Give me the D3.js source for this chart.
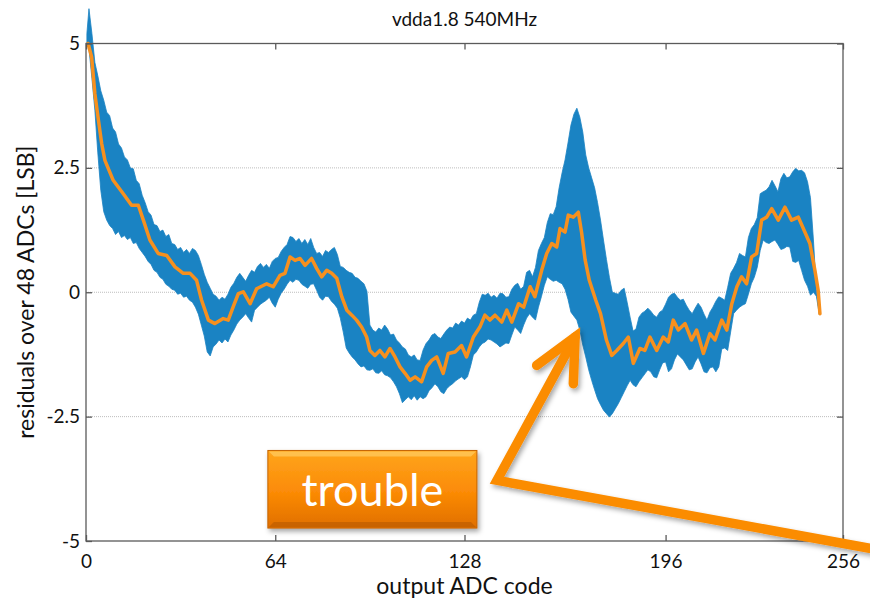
<!DOCTYPE html>
<html>
<head>
<meta charset="utf-8">
<script src="https://cdn.jsdelivr.net/npm/d3@7"></script>
<style>
  html, body { margin: 0; padding: 0; background: #fff; }
  svg { display: block; font-family: Lato, "Open Sans", sans-serif; }
</style>
</head>
<body>
<svg id="chart" width="870" height="600"></svg>
<script>
// ---- data: residual spread across 48 ADCs vs. output code ----
const title = "vdda1.8 540MHz";
const xLabel = "output ADC code";
const yLabel = "residuals over 48 ADCs [LSB]";

const xTicks = [0, 64, 128, 196, 256];
const yTicks = [5, 2.5, 0, -2.5, -5];
const yTickLabels = ["5", "2.5", "0", "-2.5", "-5"];

// mean residual (orange trace)
const meanCode = [0.7, 1.9, 3.0, 4.2, 5.3, 6.4, 9.2, 12.6, 15.4, 17.7, 19.4, 21.6, 24.4, 27.3, 30.1, 32.9, 35.2, 37.4, 39.1, 41.4,
  43.6, 46.4, 48.1, 49.8, 51.5, 53.2, 55.5, 57.7, 61.1, 63.3, 65.6, 67.3, 69.0, 70.7, 72.4, 74.1, 76.3, 78.0, 79.7, 81.4,
  83.1, 84.8, 86.5, 88.2, 89.9, 91.5, 93.2, 94.9, 96.0, 97.7, 99.4, 101.1, 102.8, 104.5, 106.2, 107.9, 109.6, 111.3, 113.5, 115.2,
  116.9, 118.6, 120.8, 122.5, 124.8, 127.0, 128.7, 131.0, 133.2, 134.9, 136.6, 138.3, 140.6, 142.3, 144.0, 146.3, 148.0, 150.2, 151.8, 154.1,
  155.8, 157.5, 159.2, 160.3, 162.0, 163.1, 164.8, 166.5, 167.6, 168.8, 170.2, 172.4, 174.0, 176.0, 177.8, 179.5, 181.7, 183.4, 185.1, 187.3,
  189.0, 190.7, 193.0, 195.2, 196.9, 198.6, 200.3, 202.6, 204.8, 206.5, 208.8, 211.0, 212.7, 215.0, 216.7, 218.4, 220.1, 221.7, 223.4, 225.1,
  226.8, 228.5, 230.2, 231.9, 234.1, 236.4, 238.6, 240.9, 243.1, 244.8, 246.5, 247.6, 248.2];
const meanVal = [5.0, 4.73, 3.99, 3.46, 2.99, 2.65, 2.25, 1.98, 1.75, 1.75, 1.45, 1.05, 0.78, 0.74, 0.51, 0.38, 0.38, 0.24, -0.16, -0.56,
  -0.63, -0.53, -0.56, -0.29, -0.03, 0.01, -0.23, 0.07, 0.17, 0.11, 0.34, 0.38, 0.71, 0.64, 0.68, 0.54, 0.68, 0.48, 0.31, 0.44,
  0.38, 0.28, -0.09, -0.36, -0.46, -0.56, -0.70, -0.90, -1.17, -1.27, -1.17, -1.30, -1.13, -1.30, -1.50, -1.63, -1.77, -1.70, -1.80, -1.50,
  -1.37, -1.30, -1.63, -1.23, -1.20, -1.07, -1.30, -0.90, -0.70, -0.46, -0.56, -0.46, -0.60, -0.36, -0.60, -0.23, -0.30, 0.11, -0.09, 0.44,
  0.78, 0.98, 0.91, 1.28, 1.21, 1.55, 1.51, 1.61, 1.20, 0.65, 0.24, -0.16, -0.43, -0.96, -1.27, -1.17, -1.03, -0.90, -1.43, -1.13,
  -1.17, -0.90, -1.17, -0.90, -1.00, -0.56, -0.76, -0.63, -0.96, -0.76, -1.23, -0.83, -0.96, -0.56, -0.76, -0.23, 0.11, 0.31, 0.17, 0.71,
  0.78, 1.45, 1.51, 1.68, 1.45, 1.71, 1.45, 1.51, 1.21, 0.98, 0.44, 0.04, -0.43];

// upper envelope of the spread (blue band top), one value per code
const upperCode = [0.3, ...d3.range(1, 249)];
const upperVal = [5.20,
  5.70, 5.20, 4.62, 4.35, 4.05, 3.86, 3.62, 3.55, 3.30,
  3.22, 2.98, 2.90, 2.72, 2.66, 2.50, 2.48, 2.25, 2.18, 1.95,
  1.80, 1.62, 1.55, 1.36, 1.34, 1.22, 1.25, 1.12, 1.16, 0.98,
  0.96, 0.86, 0.90, 0.80, 0.86, 0.78, 0.88, 0.84, 0.74, 0.56,
  0.36, 0.20, 0.08, -0.04, -0.08, -0.16, -0.10, -0.14, -0.04, 0.10,
  0.18, 0.30, 0.38, 0.30, 0.22, 0.34, 0.44, 0.40, 0.52, 0.58,
  0.50, 0.56, 0.48, 0.62, 0.68, 0.70, 0.82, 0.90, 0.96, 1.12,
  1.10, 1.02, 1.08, 0.98, 1.06, 0.96, 1.08, 0.90, 0.78, 0.80,
  0.72, 0.84, 0.80, 0.86, 0.90, 0.76, 0.52, 0.50, 0.44, 0.40,
  0.38, 0.30, 0.28, 0.22, 0.17, 0.02, -0.66, -0.76, -0.80, -0.72,
  -0.76, -0.66, -0.74, -0.86, -0.84, -0.96, -1.02, -1.10, -1.14, -1.26,
  -1.30, -1.26, -1.36, -1.37, -1.16, -1.03, -0.96, -0.86, -0.83, -0.90,
  -0.93, -0.84, -0.76, -0.70, -0.72, -0.62, -0.66, -0.58, -0.62, -0.52,
  -0.56, -0.46, -0.43, -0.20, -0.04, -0.06, -0.02, -0.10, -0.06, -0.12,
  -0.02, -0.03, -0.10, -0.09, 0.06, 0.14, 0.18, 0.06, 0.12, 0.40,
  0.44, 0.31, 0.50, 0.84, 0.98, 1.10, 1.40, 1.58, 1.56, 1.72,
  2.10, 2.40, 2.66, 3.00, 3.36, 3.58, 3.70, 3.52, 3.22, 2.76,
  2.50, 2.30, 2.10, 1.80, 1.45, 1.05, 0.66, 0.30, 0.00, -0.02,
  -0.04, 0.04, 0.08, -0.20, -0.50, -0.78, -0.74, -0.50, -0.42, -0.38,
  -0.32, -0.38, -0.46, -0.50, -0.40, -0.36, -0.24, -0.10, -0.04, -0.02,
  -0.10, -0.16, -0.14, -0.26, -0.36, -0.43, -0.32, -0.22, -0.30, -0.44,
  -0.56, -0.40, -0.30, -0.18, -0.09, -0.12, -0.16, 0.10, 0.38, 0.48,
  0.60, 0.78, 0.74, 0.71, 1.10, 1.28, 1.36, 1.50, 1.98, 2.02,
  2.05, 2.12, 2.25, 2.14, 2.02, 2.28, 2.39, 2.30, 2.32, 2.42,
  2.49, 2.44, 2.45, 2.40, 2.22, 1.90, 1.05, 0.05, -0.43];

// lower envelope of the spread (blue band bottom), one value per code
const lowerCode = [0.3, ...d3.range(1, 249)];
const lowerVal = [5.00,
  4.90, 4.30, 3.66, 2.80, 2.05, 1.62, 1.45, 1.34, 1.28,
  1.16, 1.22, 1.10, 1.14, 1.06, 1.10, 0.98, 1.00, 0.88, 0.80,
  0.72, 0.62, 0.56, 0.44, 0.40, 0.30, 0.26, 0.16, 0.12, 0.06,
  0.04, -0.04, -0.02, -0.10, -0.08, -0.16, -0.20, -0.30, -0.44, -0.66,
  -0.88, -1.20, -1.28, -1.10, -1.04, -0.96, -1.02, -0.94, -1.00, -0.86,
  -0.76, -0.64, -0.56, -0.50, -0.43, -0.52, -0.60, -0.36, -0.30, -0.24,
  -0.20, -0.16, -0.10, -0.22, -0.30, -0.14, -0.02, 0.06, 0.16, 0.24,
  0.20, 0.26, 0.24, 0.16, 0.12, 0.08, 0.16, 0.17, 0.04, -0.10,
  -0.16, -0.08, -0.09, -0.18, -0.24, -0.32, -0.52, -0.80, -1.12, -1.22,
  -1.30, -1.36, -1.44, -1.50, -1.48, -1.56, -1.57, -1.54, -1.62, -1.63,
  -1.58, -1.66, -1.68, -1.72, -1.80, -1.90, -2.04, -2.22, -2.16, -2.10,
  -2.16, -2.08, -2.17, -2.10, -2.14, -2.10, -1.98, -1.92, -1.84, -1.90,
  -2.00, -2.04, -1.94, -1.88, -1.84, -1.78, -1.74, -1.70, -1.76, -1.70,
  -1.50, -1.26, -1.20, -1.10, -1.03, -1.00, -0.94, -0.96, -1.00, -1.04,
  -1.10, -1.06, -1.02, -1.03, -0.86, -0.70, -0.76, -0.83, -0.66, -0.52,
  -0.43, -0.50, -0.56, -0.30, -0.09, 0.14, 0.31, 0.26, 0.22, 0.24,
  0.20, 0.17, 0.06, -0.14, -0.40, -0.48, -0.56, -0.76, -1.06, -1.30,
  -1.56, -1.77, -1.96, -2.14, -2.26, -2.37, -2.44, -2.51, -2.44, -2.34,
  -2.24, -2.12, -2.00, -1.88, -1.77, -1.86, -1.90, -1.80, -1.72, -1.64,
  -1.56, -1.60, -1.70, -1.72, -1.56, -1.42, -1.40, -1.60, -1.54, -1.36,
  -1.24, -1.30, -1.36, -1.46, -1.56, -1.54, -1.40, -1.30, -1.44, -1.60,
  -1.62, -1.52, -1.50, -1.60, -1.50, -1.14, -1.12, -1.17, -0.80, -0.43,
  -0.36, -0.30, -0.26, -0.23, -0.04, 0.17, 0.30, 0.50, 0.84, 1.05,
  1.00, 0.98, 1.02, 1.05, 0.96, 0.86, 0.88, 0.92, 0.91, 0.62,
  0.60, 0.64, 0.44, 0.24, 0.12, -0.06, 0.00, -0.08, -0.45];

// callout: box corners, arrow path and head (in axis units)
const calloutText = "trouble";
const calloutBox = { x0: 61.5, x1: 132.2, y0: -3.18, y1: -4.74 };
const arrowPath = [[270, -5.20], [139.0, -3.78], [165.4, -0.90]];
const arrowHead = [[152.4, -1.47], [165.4, -0.90], [164.8, -1.84]];

// ---- layout ----
const M = { left: 86, right: 843, top: 43.5, bottom: 541 };
const svg = d3.select("#chart");

const x = d3.scaleLinear().domain([0, 256]).range([M.left, M.right]);
const y = d3.scaleLinear().domain([-5, 5]).range([M.bottom, M.top]);

const blue = "#1a83c3";
const orange = "#f7901e";
const axisColor = "#5a5a5a";

// dotted horizontal grid
svg.append("g").selectAll("line")
  .data(yTicks.filter(v => v !== 5 && v !== -5))
  .join("line")
  .attr("x1", M.left).attr("x2", M.right)
  .attr("y1", d => y(d)).attr("y2", d => y(d))
  .attr("stroke", "#bdbdbd").attr("stroke-width", 1)
  .attr("stroke-dasharray", "1,1");

// spread band: upper edge forward, lower edge back
const pt = d3.line().x(d => x(d[0])).y(d => y(d[1]));
const upperPts = upperCode.map((c, i) => [c, upperVal[i]]);
const lowerPts = lowerCode.map((c, i) => [c, lowerVal[i]]).reverse();
svg.append("path")
  .attr("d", pt(upperPts.concat(lowerPts)) + "Z")
  .attr("fill", blue)
  .attr("stroke", blue).attr("stroke-width", 0.8).attr("stroke-linejoin", "miter");

// mean trace
svg.append("path")
  .attr("d", pt(meanCode.map((c, i) => [c, meanVal[i]])))
  .attr("fill", "none")
  .attr("stroke", orange).attr("stroke-width", 3.5)
  .attr("stroke-linejoin", "round").attr("stroke-linecap", "round");

// ---- axes ----
function styleAxis(g) {
  g.select(".domain").remove();
  g.selectAll(".tick line").attr("stroke", axisColor).attr("stroke-width", 1.3);
  g.selectAll(".tick text").attr("fill", "#111").attr("font-size", 19)
    .attr("font-family", "Lato, 'Open Sans', sans-serif");
}
svg.append("g").attr("transform", `translate(0,${M.bottom})`)
  .call(d3.axisBottom(x).tickValues(xTicks).tickSizeInner(-6).tickSizeOuter(0).tickPadding(14))
  .call(styleAxis);
svg.append("g").attr("transform", `translate(0,${M.top})`)
  .call(d3.axisTop(x).tickValues(xTicks).tickSizeInner(-6).tickSizeOuter(0).tickFormat(""))
  .call(styleAxis);
svg.append("g").attr("transform", `translate(${M.left},0)`)
  .call(d3.axisLeft(y).tickValues(yTicks).tickSizeInner(-6).tickSizeOuter(0).tickPadding(6)
    .tickFormat((d, i) => yTickLabels[i]))
  .call(styleAxis);
svg.append("g").attr("transform", `translate(${M.right},0)`)
  .call(d3.axisRight(y).tickValues(yTicks).tickSizeInner(-6).tickSizeOuter(0).tickFormat(""))
  .call(styleAxis);

// frame
svg.append("rect")
  .attr("x", M.left).attr("y", M.top)
  .attr("width", M.right - M.left).attr("height", M.bottom - M.top)
  .attr("fill", "none").attr("stroke", axisColor).attr("stroke-width", 1.3);

// titles
svg.append("text").attr("x", (M.left + M.right) / 2).attr("y", 26)
  .attr("text-anchor", "middle").attr("font-size", 19).attr("fill", "#111").text(title);
svg.append("text").attr("x", (M.left + M.right) / 2).attr("y", 594)
  .attr("text-anchor", "middle").attr("font-size", 23).attr("fill", "#111").text(xLabel);
svg.append("text").attr("transform", `translate(34,${(M.top + M.bottom) / 2}) rotate(-90)`)
  .attr("text-anchor", "middle").attr("font-size", 23).attr("fill", "#111").text(yLabel);

// ---- callout ----
const defs = svg.append("defs");
const grad = defs.append("linearGradient").attr("id", "boxFill")
  .attr("x1", 0).attr("y1", 0).attr("x2", 0).attr("y2", 1);
grad.append("stop").attr("offset", "0%").attr("stop-color", "#ffa51c");
grad.append("stop").attr("offset", "55%").attr("stop-color", "#fb8a06");
grad.append("stop").attr("offset", "100%").attr("stop-color", "#e06f00");
const shadow = defs.append("filter").attr("id", "shadow")
  .attr("x", "-20%").attr("y", "-20%").attr("width", "140%").attr("height", "160%");
shadow.append("feDropShadow").attr("dx", 2).attr("dy", 3).attr("stdDeviation", 2.5)
  .attr("flood-color", "#000").attr("flood-opacity", 0.35);

const arrowG = svg.append("g").attr("filter", "url(#shadow)");
const arrowLine = d3.line().x(d => x(d[0])).y(d => y(d[1]));
arrowG.append("path").attr("d", arrowLine(arrowPath))
  .attr("fill", "none").attr("stroke", "#fb8c00").attr("stroke-width", 9.5)
  .attr("stroke-linejoin", "miter").attr("stroke-linecap", "round");
arrowG.append("path").attr("d", arrowLine(arrowHead))
  .attr("fill", "none").attr("stroke", "#fb8c00").attr("stroke-width", 9.5)
  .attr("stroke-linejoin", "miter").attr("stroke-linecap", "round");

const bx = x(calloutBox.x0), by = y(calloutBox.y0);
const bw = x(calloutBox.x1) - bx, bh = y(calloutBox.y1) - by;
const boxG = svg.append("g");
boxG.append("rect").attr("x", bx).attr("y", by).attr("width", bw).attr("height", bh)
  .attr("fill", "url(#boxFill)").attr("stroke", "#c56300").attr("stroke-width", 1)
  .attr("filter", "url(#shadow)");
// bevel highlights
boxG.append("path")
  .attr("d", `M${bx + 1},${by + 1}H${bx + bw - 1}L${bx + bw - 6},${by + 6}H${bx + 6}Z`)
  .attr("fill", "#ffc85a").attr("opacity", 0.8);
boxG.append("path")
  .attr("d", `M${bx + 1},${by + bh - 1}H${bx + bw - 1}L${bx + bw - 6},${by + bh - 6}H${bx + 6}Z`)
  .attr("fill", "#b85a00").attr("opacity", 0.6);
boxG.append("text").attr("x", bx + bw / 2).attr("y", by + 56)
  .attr("text-anchor", "middle").attr("font-size", 45).attr("fill", "#fff")
  .text(calloutText);
</script>
</body>
</html>
